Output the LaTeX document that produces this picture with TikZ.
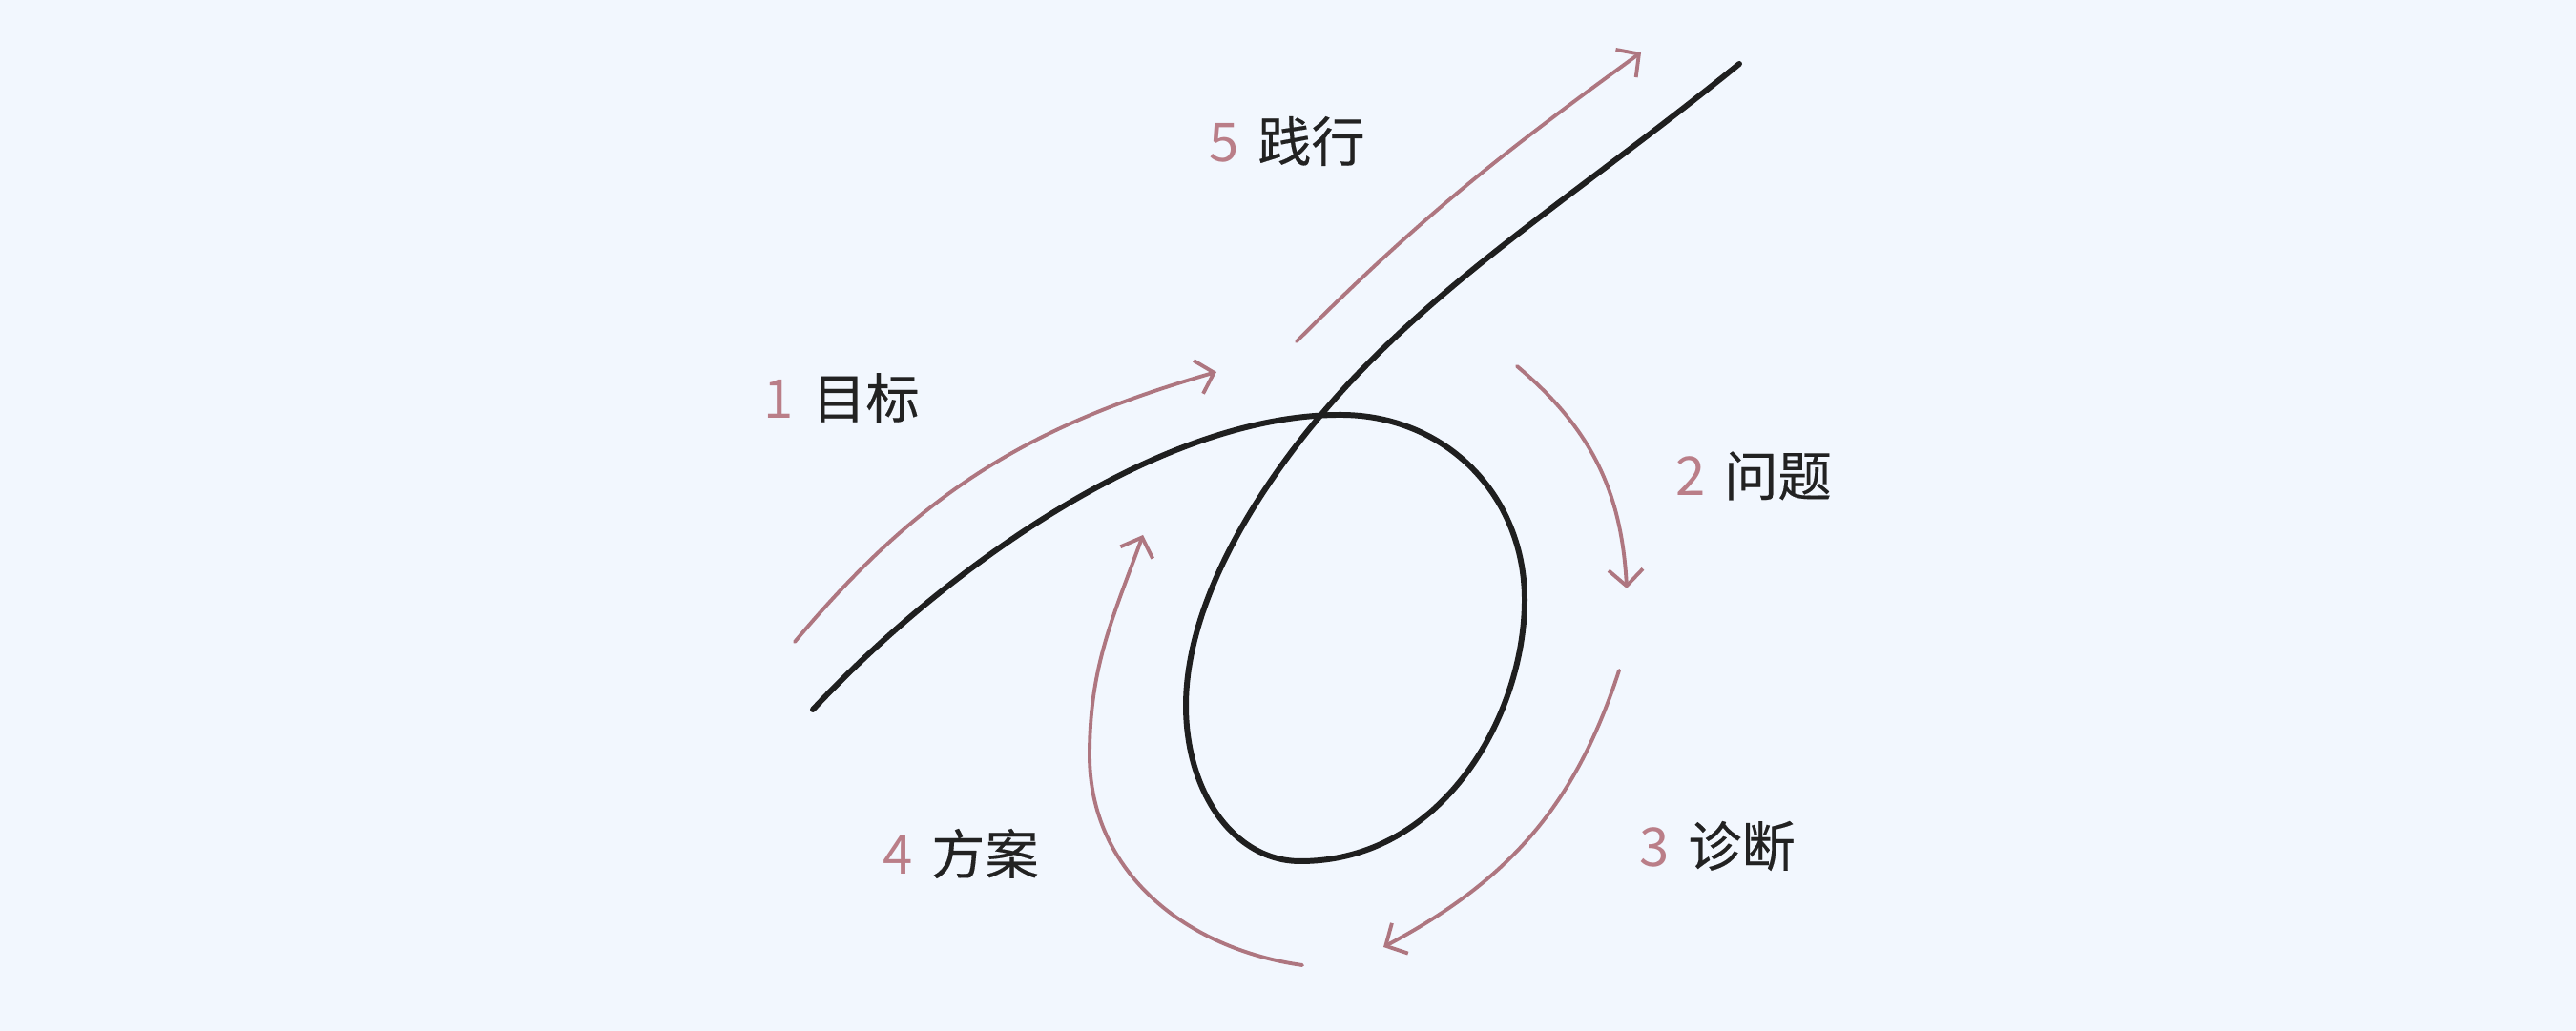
\documentclass[tikz,border=0pt]{standalone}
\usepackage{fontspec}
\setmainfont{Noto Sans CJK SC}
\newfontfamily\hanfont{Noto Sans CJK SC}[FakeBold=0.25]
\usetikzlibrary{arrows.meta}
\definecolor{bgc}{RGB}{242,247,254}
\definecolor{cycc}{RGB}{174,118,128}
\definecolor{numc}{RGB}{186,126,136}
\definecolor{txtc}{RGB}{34,34,34}
\newcommand{\stepno}[1]{\textcolor{numc}{#1}\hspace{0.35em}}

\begin{document}
\begin{tikzpicture}[>={Straight Barb[length=1.7mm,width=3.6mm]},
 road/.style={draw=black!88,line width=1.7pt,line cap=round},
 cyc/.style={->,draw=cycc,line width=1.1pt,line cap=round},
 lbl/.style={font=\fontsize{16}{19}\selectfont,text=txtc,inner sep=0pt}]
\fill[bgc] (0,0) rectangle (27,10.81);
\useasboundingbox (0,0) rectangle (27,10.81);
% the road with its loop
\draw[road] (8.52,3.37) .. controls (9.75,4.69) and (12.05,6.46) .. (14.05,6.46)
 .. controls (15.15,6.46) and (15.98,5.62) .. (15.98,4.52)
 .. controls (15.98,3.32) and (15.13,1.78) .. (13.63,1.78)
 .. controls (12.93,1.78) and (12.43,2.51) .. (12.43,3.41)
 .. controls (12.43,4.71) and (13.50,6.16) .. (14.35,7.01)
 .. controls (15.48,8.14) and (16.75,8.94) .. (18.23,10.14);
% ends of the five steps
\coordinate (s1) at (8.33,4.08);   \coordinate (e1) at (12.75,6.91);
\coordinate (s2) at (15.90,6.97);  \coordinate (e2) at (17.05,4.64);
\coordinate (s3) at (16.97,3.78);  \coordinate (e3) at (14.50,0.88);
\coordinate (s4) at (13.65,0.69);  \coordinate (m4) at (11.42,2.89);
\coordinate (e4) at (11.98,5.20);
\coordinate (s5) at (13.59,7.23);  \coordinate (e5) at (17.20,10.26);
\foreach \s/\e/\o/\i in {s1/e1/50/196,s2/e2/-40/93,s3/e3/-108/28,s5/e5/45/216}
 \draw[cyc] (\s) to[out=\o,in=\i] (\e);
\draw[cyc] (s4) to[out=172,in=-90] (m4) to[out=90,in=250] (e4);
\node[lbl] (goal) at (8.82,6.64) {\stepno{1}{\hanfont 目标}};
\node[lbl] (problem) at (18.38,5.82) {\stepno{2}{\hanfont 问题}};
\node[lbl] (diagnosis) at (18.00,1.94) {\stepno{3}{\hanfont 诊断}};
\node[lbl] (plan) at (10.07,1.86) {\stepno{4}{\hanfont 方案}};
\node[lbl] (practice) at (13.49,9.33) {\stepno{5}{\hanfont 践行}};
\end{tikzpicture}
\end{document}
